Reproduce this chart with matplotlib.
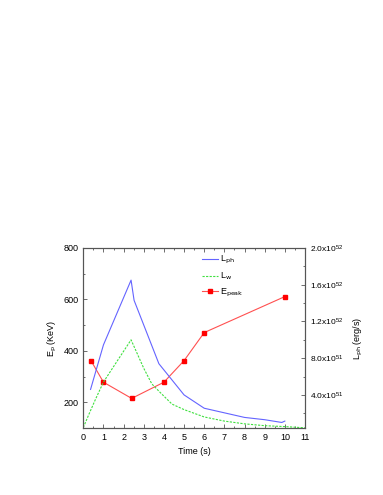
import numpy as np
import matplotlib.pyplot as plt
from matplotlib.ticker import MultipleLocator, FixedLocator

plt.rcParams['font.family'] = ['Liberation Sans', 'DejaVu Sans']

# E_peak (KeV), left axis
t_peak = [0.38, 1.0, 2.4, 4.0, 5.0, 6.0, 10.0]
e_peak = [362, 278, 215, 278, 362, 471, 611]

# L_ph (units of 1e51 erg/s), right axis
t_ph = [0.36, 1.0, 2.37, 2.52, 3.75, 5.0, 6.0, 7.0, 8.0, 9.0, 9.85, 10.0]
l_ph = [4.6, 9.45, 16.5, 14.3, 7.4, 4.0, 2.55, 2.05, 1.55, 1.3, 1.0, 1.15]

# L_w (units of 1e51 erg/s), right axis
t_w = [0.0, 0.3, 0.6, 1.0, 2.37, 3.0, 3.4, 3.8, 4.4, 5.0, 6.0, 7.0, 8.0, 9.0, 10.0, 11.0]
l_w = [0.45, 2.0, 3.5, 5.4, 10.0, 6.9, 5.2, 4.3, 3.0, 2.4, 1.6, 1.15, 0.85, 0.65, 0.55, 0.42]

right_ticks = [4.0, 8.0, 12.0, 16.0, 20.0]
right_labels = [r'$\mathregular{4.0x10^{51}}$', r'$\mathregular{8.0x10^{51}}$',
                r'$\mathregular{1.2x10^{52}}$', r'$\mathregular{1.6x10^{52}}$',
                r'$\mathregular{2.0x10^{52}}$']

fig = plt.figure(figsize=(3.83, 4.95), dpi=100)
ax = fig.add_axes([0.2175, 0.1354, 0.5788, 0.3636])
ax2 = ax.twinx()

frame = '#555555'
fs = 6.5

l3, = ax.plot(t_peak, e_peak, color='#ff5050', lw=0.8, marker='s', ms=3.2,
              mfc='#ff0000', mec='#ff0000', label=r'E$_{\rm peak}$')
l1, = ax2.plot(t_ph, l_ph, color='#6464ff', lw=0.8, label=r'L$_{\rm ph}$')
l2, = ax2.plot(t_w, l_w, color='#40e040', lw=0.8, ls=(0, (2, 1.2)), label=r'L$_{\rm w}$')

ax.set_xlim(0, 11)
ax.set_ylim(100, 800)
ax2.set_ylim(0.4, 20.0)

ax.xaxis.set_major_locator(MultipleLocator(1))
ax.xaxis.set_minor_locator(MultipleLocator(0.5))
ax.yaxis.set_major_locator(MultipleLocator(200))
ax.yaxis.set_minor_locator(MultipleLocator(100))
ax2.yaxis.set_major_locator(FixedLocator(right_ticks))
ax2.yaxis.set_minor_locator(MultipleLocator(2))
ax2.set_yticklabels(right_labels)

for a in (ax, ax2):
    for s in a.spines.values():
        s.set_color(frame)
        s.set_linewidth(0.8)
ax.tick_params(axis='both', which='both', direction='in', top=True, labelsize=fs,
               color=frame, width=0.6)
ax.tick_params(which='major', length=3)
ax.tick_params(which='minor', length=1.5)
ax2.tick_params(axis='y', which='both', direction='in', labelsize=fs - 0.5,
                color=frame, width=0.6)
ax2.tick_params(which='major', length=3)
ax2.tick_params(which='minor', length=1.5)

ax.set_xlabel('Time (s)', fontsize=fs, labelpad=4)
ax.set_ylabel(r'E$_{\rm p}$ (KeV)', fontsize=fs, labelpad=3)
ax2.set_ylabel(r'L$_{\rm ph}$ (erg/s)', fontsize=fs, labelpad=6)

ax2.legend(handles=[l1, l2, l3], loc='upper left', bbox_to_anchor=(0.5, 1.01),
           frameon=False, fontsize=fs, handlelength=1.7, handletextpad=0.25,
           labelspacing=0.5)

fig.savefig('out.png', dpi=100)
